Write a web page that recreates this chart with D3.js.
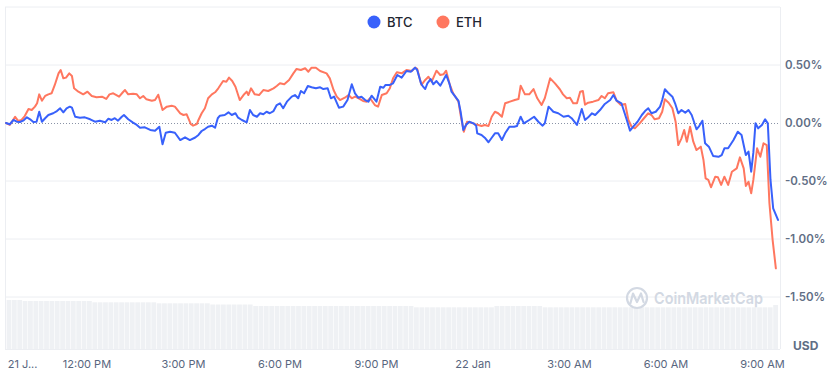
<!DOCTYPE html>
<html>
<head>
<meta charset="utf-8">
<script src="https://cdn.jsdelivr.net/npm/d3@7"></script>
<style>
  body { margin: 0; background: #fff; }
  svg { display: block; font-family: Inter, "Noto Sans", sans-serif; }
</style>
</head>
<body>
<svg id="chart" width="834" height="385"></svg>
<script>
// Inicio de la ventana de 24h
const startTime = new Date(2025, 0, 21, 9, 30);

// [minutos desde el inicio, variación %]
const btcPoints = [[0,0],[7,-0.011],[14,0.026],[20,0.011],[26,0.009],[32,0.020],[39,0.049],[45,0.032],[51,0.009],[57,0.011],[62,0.097],[67,0.011],[73,0.041],[79,0.069],[88,0.084],[95,0.103],[101,0.127],[107,0.092],[113,0.127],[119,0.141],[123,0.132],[129,0.054],[138,0.046],[147,0.049],[157,0.032],[166,0.011],[175,0.020],[185,0.006],[191,0.037],[197,0.026],[203,0.041],[209,0.020],[216,0.054],[220,0.069],[228,0.032],[237,0.003],[244,-0.017],[250,-0.041],[259,-0.037],[269,-0.060],[278,-0.066],[286,-0.032],[292,-0.184],[298,-0.084],[306,-0.075],[315,-0.084],[325,-0.147],[334,-0.123],[343,-0.147],[353,-0.125],[359,-0.103],[365,-0.069],[371,-0.052],[377,-0.032],[384,-0.023],[390,-0.041],[395,0.041],[399,0.063],[408,0.069],[415,0.092],[421,0.069],[428,0.084],[433,0.046],[440,0.026],[449,0.006],[455,0.112],[461,0.069],[468,0.054],[474,0.084],[480,0.075],[486,0.097],[492,0.084],[499,0.103],[505,0.155],[511,0.170],[517,0.127],[524,0.184],[533,0.227],[539,0.241],[545,0.213],[550,0.276],[556,0.256],[563,0.319],[570,0.308],[578,0.299],[586,0.308],[592,0.293],[600,0.299],[606,0.213],[612,0.227],[621,0.132],[629,0.141],[637,0.198],[645,0.334],[651,0.256],[657,0.218],[663,0.227],[670,0.198],[676,0.184],[682,0.235],[691,0.184],[698,0.313],[704,0.304],[708,0.328],[716,0.328],[722,0.342],[730,0.414],[738,0.391],[747,0.448],[755,0.442],[763,0.477],[767,0.457],[774,0.342],[778,0.313],[782,0.293],[786,0.342],[792,0.379],[797,0.334],[803,0.362],[810,0.322],[816,0.371],[821,0.414],[827,0.342],[831,0.270],[838,0.227],[844,0.190],[848,0.097],[853,-0.060],[858,-0.017],[864,0.011],[872,-0.003],[877,-0.023],[879,-0.089],[887,-0.103],[893,-0.127],[900,-0.166],[906,-0.127],[912,-0.089],[918,-0.089],[925,-0.147],[931,-0.089],[939,-0.032],[948,-0.032],[953,-0.026],[960,0.054],[966,-0.003],[976,0.026],[985,0.054],[993,0.011],[1001,-0.023],[1005,-0.003],[1012,0.141],[1021,0.097],[1030,0.084],[1040,0.054],[1049,0.063],[1055,0.041],[1065,-0.017],[1074,0.121],[1080,0.026],[1086,0.049],[1093,0.084],[1099,0.069],[1108,0.112],[1117,0.164],[1127,0.198],[1133,0.241],[1139,0.192],[1148,0.170],[1158,0.026],[1164,-0.066],[1170,-0.032],[1178,0.011],[1186,0.069],[1192,0.103],[1198,0.127],[1204,0.084],[1212,0.097],[1220,0.141],[1224,0.198],[1229,0.291],[1235,0.261],[1243,0.227],[1248,0.170],[1254,0.084],[1260,0.112],[1267,0.089],[1273,0.112],[1279,0.069],[1288,-0.054],[1293,-0.026],[1299,0.020],[1304,-0.175],[1311,-0.204],[1319,-0.284],[1329,-0.291],[1335,-0.276],[1340,-0.218],[1347,-0.218],[1357,-0.147],[1365,-0.075],[1372,-0.103],[1380,-0.276],[1385,-0.247],[1390,-0.420],[1394,-0.256],[1398,-0.003],[1403,-0.046],[1410,-0.017],[1416,0.032],[1421,-0.003],[1426,-0.491],[1431,-0.735],[1440,-0.836]];

const ethPoints = [[0,0],[7,-0.017],[17,0.054],[23,0.017],[29,0.026],[35,0.060],[42,0.121],[48,0.112],[54,0.141],[58,0.170],[62,0.247],[67,0.192],[73,0.233],[79,0.247],[85,0.256],[91,0.328],[98,0.428],[102,0.457],[107,0.385],[112,0.391],[118,0.428],[123,0.405],[127,0.299],[135,0.270],[144,0.247],[152,0.270],[160,0.233],[169,0.222],[179,0.227],[187,0.207],[193,0.247],[200,0.256],[206,0.241],[211,0.227],[218,0.265],[222,0.284],[228,0.247],[237,0.253],[244,0.247],[250,0.213],[256,0.233],[262,0.204],[272,0.192],[278,0.198],[284,0.244],[292,0.112],[300,0.141],[309,0.149],[315,0.141],[325,0.084],[331,0.069],[337,0.075],[345,-0.011],[349,-0.023],[356,-0.010],[359,0.026],[365,0.084],[371,0.127],[377,0.213],[384,0.247],[390,0.265],[396,0.299],[405,0.362],[411,0.356],[416,0.391],[422,0.362],[428,0.313],[436,0.198],[443,0.241],[449,0.270],[452,0.241],[457,0.299],[464,0.247],[472,0.241],[480,0.284],[489,0.276],[499,0.299],[505,0.319],[511,0.342],[519,0.334],[528,0.371],[536,0.428],[542,0.466],[550,0.457],[558,0.472],[564,0.442],[570,0.477],[578,0.477],[586,0.448],[598,0.428],[604,0.385],[611,0.284],[617,0.227],[623,0.198],[632,0.218],[639,0.241],[645,0.213],[651,0.227],[658,0.213],[666,0.190],[673,0.184],[679,0.213],[688,0.155],[694,0.141],[701,0.241],[710,0.256],[716,0.299],[722,0.385],[729,0.437],[738,0.428],[747,0.457],[757,0.448],[763,0.477],[767,0.466],[775,0.328],[782,0.371],[788,0.399],[794,0.356],[803,0.451],[810,0.414],[816,0.420],[821,0.451],[827,0.342],[834,0.256],[844,0.184],[848,0.069],[854,-0.075],[860,0.011],[868,0.003],[875,-0.011],[881,-0.017],[887,-0.026],[893,-0.017],[900,-0.026],[906,0.054],[912,0.097],[918,0.084],[925,0.054],[931,0.170],[940,0.184],[949,0.198],[956,0.207],[960,0.322],[968,0.247],[976,0.247],[984,0.293],[991,0.213],[999,0.155],[1005,0.213],[1015,0.385],[1024,0.342],[1033,0.291],[1039,0.247],[1046,0.213],[1052,0.218],[1058,0.170],[1065,0.170],[1071,0.270],[1076,0.276],[1080,0.158],[1086,0.175],[1095,0.184],[1105,0.198],[1111,0.233],[1117,0.213],[1123,0.256],[1133,0.265],[1139,0.192],[1147,0.155],[1155,0.164],[1161,0.026],[1167,-0.032],[1173,-0.046],[1182,-0.003],[1190,0.041],[1198,0.084],[1204,0.069],[1210,0.032],[1218,0.041],[1224,0.097],[1229,0.204],[1236,0.175],[1243,0.127],[1249,0.011],[1254,-0.190],[1260,-0.132],[1265,-0.060],[1270,-0.161],[1276,-0.032],[1282,-0.161],[1288,-0.233],[1296,-0.204],[1301,-0.319],[1305,-0.477],[1310,-0.491],[1315,-0.554],[1323,-0.463],[1328,-0.468],[1334,-0.534],[1340,-0.463],[1347,-0.534],[1354,-0.420],[1363,-0.391],[1369,-0.296],[1376,-0.391],[1380,-0.543],[1385,-0.506],[1390,-0.606],[1394,-0.491],[1401,-0.218],[1407,-0.291],[1413,-0.175],[1419,-0.190],[1424,-0.692],[1430,-1.009],[1436,-1.253]];

// Volumen (barras de 10 minutos, unidades relativas)
const volumeValues = [
  49, 49, 49, 48, 48, 48, 48, 48, 48, 48,
  48, 48, 48, 48, 48, 48, 46.7, 46.7, 46.7, 46.7,
  46.7, 46.7, 46.7, 46.7, 46.7, 46.7, 46.7, 46.7, 45.7, 45.7,
  45.7, 45.7, 45.7, 45.7, 45.7, 45.7, 45.7, 45.7, 44.5, 44.5,
  44.5, 44.5, 44.5, 44.5, 44.5, 44.5, 43, 43, 43, 43,
  43, 43, 43, 43, 43, 43, 43, 43, 43, 43,
  43, 43, 43, 43, 43, 43, 43, 43, 43, 43,
  43, 43, 43, 43, 43, 43, 41.7, 41.7, 41.7, 41.7,
  41.7, 41.7, 41.7, 41.7, 41.7, 41.7, 41.7, 41.7, 41.7, 41.7,
  41.7, 43, 43, 43, 43, 43, 43, 43, 43, 43,
  41.7, 41.7, 41.7, 41.7, 41.7, 41.7, 41.7, 41.7, 41.7, 41.7,
  41.7, 41.7, 41.7, 41.7, 41.7, 41.7, 41.7, 41.7, 41.7, 41.7,
  41.7, 41.7, 41.7, 41.7, 41.7, 41.7, 41.7, 41.7, 41.7, 41.7,
  41.7, 41.7, 41.7, 41.7, 41.7, 41.7, 41.7, 41.7, 41.7, 41.7,
  41.7, 41.7, 41.7, 44
];

const yTickValues = [0.5, 0, -0.5, -1.0, -1.5];
const gridLevels = [1.0, 0.5, -0.5, -1.0, -1.5];
const xTickTimes = [
  new Date(2025, 0, 21, 10, 0), new Date(2025, 0, 21, 12, 0), new Date(2025, 0, 21, 15, 0),
  new Date(2025, 0, 21, 18, 0), new Date(2025, 0, 21, 21, 0), new Date(2025, 0, 22, 0, 0),
  new Date(2025, 0, 22, 3, 0), new Date(2025, 0, 22, 6, 0), new Date(2025, 0, 22, 9, 0)
];
const xTickLabels = ['21 J...', '12:00 PM', '3:00 PM', '6:00 PM', '9:00 PM', '22 Jan', '3:00 AM', '6:00 AM', '9:00 AM'];

const series = [
  {name: 'BTC', color: '#3861fb', points: btcPoints},
  {name: 'ETH', color: '#ff775f', points: ethPoints}
];

const svg = d3.select('#chart');
const minute = m => d3.timeMinute.offset(startTime, m);

// Escalas
const x = d3.scaleTime()
  .domain([startTime, minute(1440)])
  .range([6, 778]);
const y = d3.scaleLinear()
  .domain([-1.5, 1.0])
  .range([297, 7]);
const yVol = d3.scaleLinear()
  .domain([0, 50])
  .range([349, 299]);

// Barras de volumen
svg.append('g')
  .selectAll('rect')
  .data(volumeValues)
  .enter()
  .append('rect')
  .attr('x', (d, i) => x(minute(i * 10)) + 0.6)
  .attr('width', (d, i) => x(minute((i + 1) * 10)) - x(minute(i * 10)) - 0.6)
  .attr('y', d => yVol(d))
  .attr('height', d => yVol(0) - yVol(d))
  .attr('fill', '#eff1f4');

// Rejilla horizontal
svg.append('g')
  .selectAll('line')
  .data(gridLevels)
  .enter()
  .append('line')
  .attr('x1', 5)
  .attr('x2', 780)
  .attr('y1', d => y(d))
  .attr('y2', d => y(d))
  .attr('stroke', '#eceef2')
  .attr('stroke-width', 1);

// Bordes
svg.append('line')
  .attr('x1', 5.5).attr('x2', 5.5).attr('y1', y(1.0)).attr('y2', 349)
  .attr('stroke', '#eceef2');
svg.append('line')
  .attr('x1', 780.5).attr('x2', 780.5).attr('y1', y(1.0)).attr('y2', 349)
  .attr('stroke', '#eceef2');
svg.append('line')
  .attr('x1', 5).attr('x2', 780).attr('y1', 349.5).attr('y2', 349.5)
  .attr('stroke', '#eceef2');

// Línea punteada en cero
svg.append('line')
  .attr('x1', 6)
  .attr('x2', 780)
  .attr('y1', Math.round(y(0)) + 0.5)
  .attr('y2', Math.round(y(0)) + 0.5)
  .attr('stroke', '#8a93a6')
  .attr('stroke-width', 1)
  .attr('stroke-dasharray', '1,2');

// Marca de agua
const wm = svg.append('g').attr('fill', 'none').attr('stroke', '#d3d9e3');
wm.append('circle')
  .attr('cx', 637).attr('cy', 298).attr('r', 10)
  .attr('stroke-width', 2.2);
wm.append('path')
  .attr('d', 'M630.5,303 L633,293.5 L637,302 L641,293.5 L643.5,302')
  .attr('stroke-width', 2.2)
  .attr('stroke-linejoin', 'round')
  .attr('stroke-linecap', 'round');
svg.append('text')
  .attr('x', 654)
  .attr('y', 304)
  .attr('font-size', '16.5px')
  .attr('font-weight', 600)
  .attr('fill', '#d3d9e3')
  .attr('textLength', 109)
  .attr('lengthAdjust', 'spacingAndGlyphs')
  .text('CoinMarketCap');

// Líneas de precio (ETH debajo, BTC encima)
const line = d3.line()
  .x(d => x(minute(d[0])))
  .y(d => y(d[1]));

[series[1], series[0]].forEach(s => {
  svg.append('path')
    .datum(s.points)
    .attr('fill', 'none')
    .attr('stroke', s.color)
    .attr('stroke-width', 2)
    .attr('stroke-linejoin', 'round')
    .attr('stroke-linecap', 'round')
    .attr('d', line);
});

// Eje Y (derecha)
const yAxis = svg.append('g')
  .attr('transform', 'translate(785,0)')
  .call(d3.axisRight(y).tickValues(yTickValues).tickSize(0).tickPadding(0)
    .tickFormat(d => d.toFixed(2) + '%'));
yAxis.select('.domain').remove();
yAxis.selectAll('text')
  .attr('font-family', 'Inter, "Noto Sans", sans-serif')
  .attr('font-size', '11.5px')
  .attr('font-weight', 600)
  .attr('fill', '#616e85');

svg.append('text')
  .attr('x', 793)
  .attr('y', 350)
  .attr('font-size', '12px')
  .attr('font-weight', 700)
  .attr('fill', '#616e85')
  .text('USD');

// Eje X
const xAxis = svg.append('g')
  .attr('transform', 'translate(0,360)')
  .call(d3.axisBottom(x).tickValues(xTickTimes).tickSize(0).tickPadding(0)
    .tickFormat((d, i) => xTickLabels[i]));
xAxis.select('.domain').remove();
xAxis.selectAll('text')
  .attr('dy', '0.71em')
  .attr('font-family', 'Inter, "Noto Sans", sans-serif')
  .attr('font-size', '11px')
  .attr('fill', '#58667e');

// Leyenda
const legend = svg.append('g');
const legendX = [374, 443];
series.forEach((s, i) => {
  legend.append('circle')
    .attr('cx', legendX[i])
    .attr('cy', 22)
    .attr('r', 6.5)
    .attr('fill', s.color);
  legend.append('text')
    .attr('x', legendX[i] + 13)
    .attr('y', 27)
    .attr('font-size', '13px')
    .attr('font-weight', 500)
    .attr('fill', '#222531')
    .text(s.name);
});
</script>
</body>
</html>
